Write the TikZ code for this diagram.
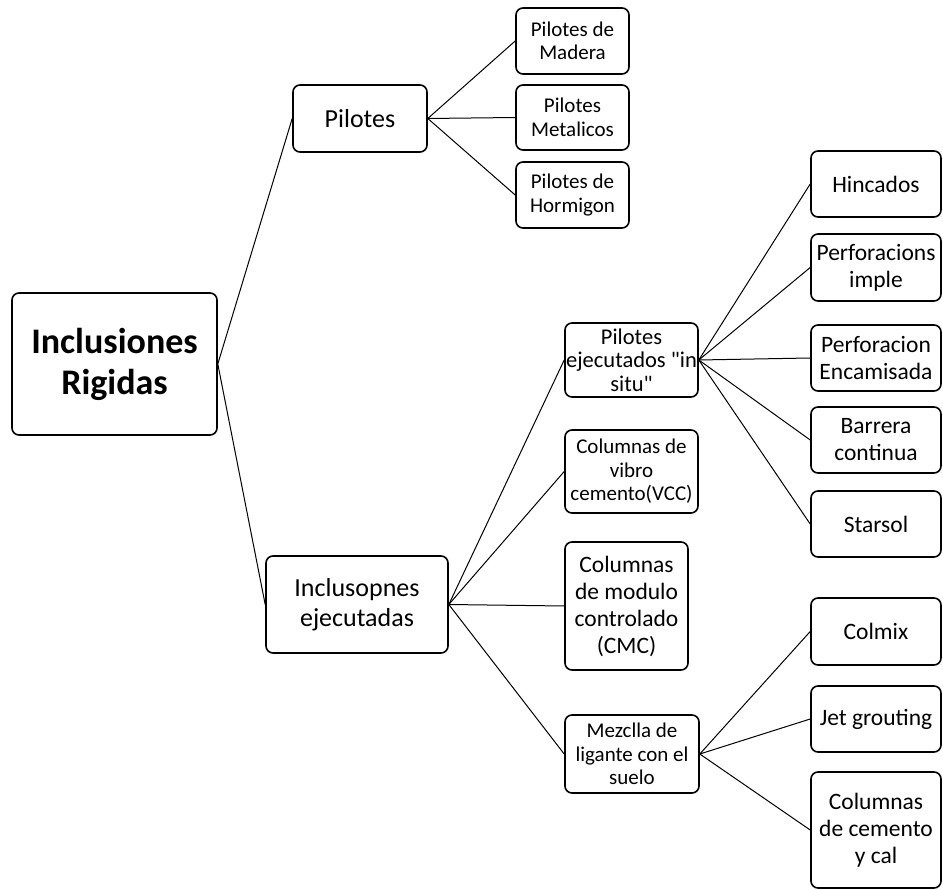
\documentclass[tikz,border=0pt]{standalone}
\usepackage{fontspec}
\setmainfont{Carlito}
\begin{document}
\begin{tikzpicture}[x=1pt,y=-1pt,
  box/.style={draw=black, line width=1.6pt, rounded corners=7pt, fill=white,
    align=center, inner sep=0pt, anchor=center},
  conn/.style={draw=black, line width=1pt},
  fa/.style={font=\fontsize{21}{23.5}\selectfont},
  fb/.style={font=\fontsize{23.5}{27}\selectfont},
  fc/.style={font=\fontsize{26}{30}\selectfont}]
\useasboundingbox (0,0) rectangle (943,890);
% root
\node[box, minimum width=205pt, minimum height=142pt,
  font=\fontsize{36}{41}\selectfont\bfseries] (root) at (114.5,364) {Inclusiones\\Rigidas};
% level 1
\node[box, fc, minimum width=134pt, minimum height=67pt] (pil) at (360,118.5) {Pilotes};
\node[box, fc, minimum width=182pt, minimum height=97pt] (inc) at (357,604.5) {Inclusopnes\\ejecutadas};
% Pilotes children
\node[box, fa, minimum width=113pt, minimum height=66pt] (pm) at (572.5,41) {Pilotes de\\Madera};
\node[box, fa, minimum width=113pt, minimum height=65pt] (pme) at (572.5,117.5) {Pilotes\\Metalicos};
\node[box, fa, minimum width=113pt, minimum height=66pt] (ph) at (572.5,195) {Pilotes de\\Hormigon};
% Inclusopnes children
\node[box, font=\fontsize{22.5}{23.5}\selectfont, minimum width=133pt, minimum height=74pt] (pe) at (631.5,360) {Pilotes\\ejecutados \textquotedbl in\\situ\textquotedbl};
\node[box, fa, minimum width=133pt, minimum height=83pt] (vcc) at (631.5,471.5) {Columnas de\\vibro\\cemento(VCC)};
\node[box, fb, minimum width=123pt, minimum height=128pt] (cmc) at (626.5,606) {Columnas\\de modulo\\controlado\\(CMC)};
\node[box, fa, minimum width=134pt, minimum height=78pt] (mez) at (632,754) {Mezclla de\\ligante con el\\suelo};
% right column
\node[box, fb, minimum width=130pt, minimum height=66pt] (hin) at (876,184) {Hincados};
\node[box, fb, minimum width=130pt, minimum height=67pt] (pi) at (876,267.5) {Perforacions\\imple};
\node[box, fb, minimum width=130pt, minimum height=66pt] (pen) at (876,358) {Perforacion\\Encamisada};
\node[box, fb, minimum width=130pt, minimum height=66pt] (bar) at (876,440) {Barrera\\continua};
\node[box, fb, minimum width=130pt, minimum height=66pt] (sta) at (876,524) {Starsol};
\node[box, fb, minimum width=130pt, minimum height=67pt] (col) at (876,631.5) {Colmix};
\node[box, fb, minimum width=130pt, minimum height=66pt] (jet) at (876,719) {Jet grouting};
\node[box, fb, minimum width=130pt, minimum height=116pt] (cdc) at (876,830) {Columnas\\de cemento\\y cal};
% connectors
\foreach \c in {pil,inc} \draw[conn] (root.east) -- (\c.west);
\foreach \c in {pm,pme,ph} \draw[conn] (pil.east) -- (\c.west);
\foreach \c in {pe,vcc,cmc,mez} \draw[conn] (inc.east) -- (\c.west);
\foreach \c in {hin,pi,pen,bar,sta} \draw[conn] (pe.east) -- (\c.west);
\foreach \c in {col,jet,cdc} \draw[conn] (mez.east) -- (\c.west);
\end{tikzpicture}
\end{document}
